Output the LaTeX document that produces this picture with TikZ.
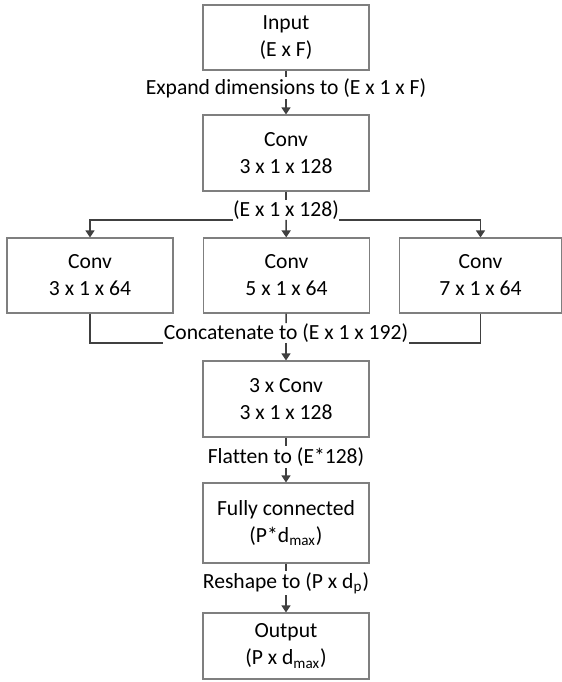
\documentclass[tikz,border=0pt]{standalone}
\usepackage{fontspec}
\setmainfont{Carlito}[Ligatures=NoCommon]
\usetikzlibrary{arrows.meta}

\definecolor{boxgray}{HTML}{7F7F7F}
\definecolor{linegray}{HTML}{404040}

\tikzset{
    layer/.style={draw=boxgray, line width=0.6pt, fill=white, align=center,
        minimum width=83pt, font=\fontsize{10.8}{13.5}\selectfont},
    lbl/.style={fill=white, inner sep=0.5pt, font=\fontsize{10.8}{13.5}\selectfont},
    conn/.style={draw=linegray, line width=0.75pt},
    arr/.style={conn, -{Triangle[width=4.5pt,length=3.5pt]}},
}

\begin{document}
\begin{tikzpicture}[x=0.5pt,y=-0.5pt]
                        \useasboundingbox (0,0) rectangle (562,682);

                        % 層を描画
                        \node[layer, minimum height=32.5pt] (in) at (286,37.5) {Input\\(E x F)};
                        \node[layer, minimum height=38pt] (conv1) at (286,153) {Conv\\3 x 1 x 128};
                        \node[layer, minimum height=37.5pt] (left) at (90,275.5) {Conv\\3 x 1 x 64};
                        \node[layer, minimum height=37.5pt] (mid) at (286.5,275.5) {Conv\\5 x 1 x 64};
                        \node[layer, minimum height=37.5pt, minimum width=81pt] (right) at (480.5,275.5) {Conv\\7 x 1 x 64};
                        \node[layer, minimum height=38pt] (conv3) at (286,399) {3 x Conv\\3 x 1 x 128};
                        \node[layer, minimum height=40pt] (fc) at (286,523) {Fully connected\\(P*d\textsubscript{max})};
                        \node[layer, minimum height=33pt] (out) at (286,646) {Output\\(P x d\textsubscript{max})};

                        % 形状のラベルを描画
                        \node[lbl] (expand) at (286,88) {Expand dimensions to (E x 1 x F)};
                        \node[lbl, inner sep=0pt] (split) at (286,210) {(E x 1 x 128)};
                        \node[lbl, inner sep=0pt] (concat) at (286,333) {Concatenate to (E x 1 x 192)};
                        \node[lbl] (flatten) at (286,457) {Flatten to (E*128)};
                        \node[lbl] (reshape) at (286,583) {Reshape to (P x d\textsubscript{p})};

                        % 接続を描画
                        \draw[conn] (in) -- (expand);
                        \draw[arr] (expand) -- (conv1);
                        \draw[conn] (conv1) -- (split);
                        \draw[arr] (split.south west) -| (left);
                        \draw[arr] (split) -- (mid);
                        \draw[arr] (split.south east) -| (right);
                        \draw[conn] (left) |- (concat.south west);
                        \draw[conn] (mid) -- (concat);
                        \draw[conn] (right) |- (concat.south east);
                        \draw[arr] (concat) -- (conv3);
                        \draw[conn] (conv3) -- (flatten);
                        \draw[arr] (flatten) -- (fc);
                        \draw[conn] (fc) -- (reshape);
                        \draw[arr] (reshape) -- (out);
                    \end{tikzpicture}
\end{document}
